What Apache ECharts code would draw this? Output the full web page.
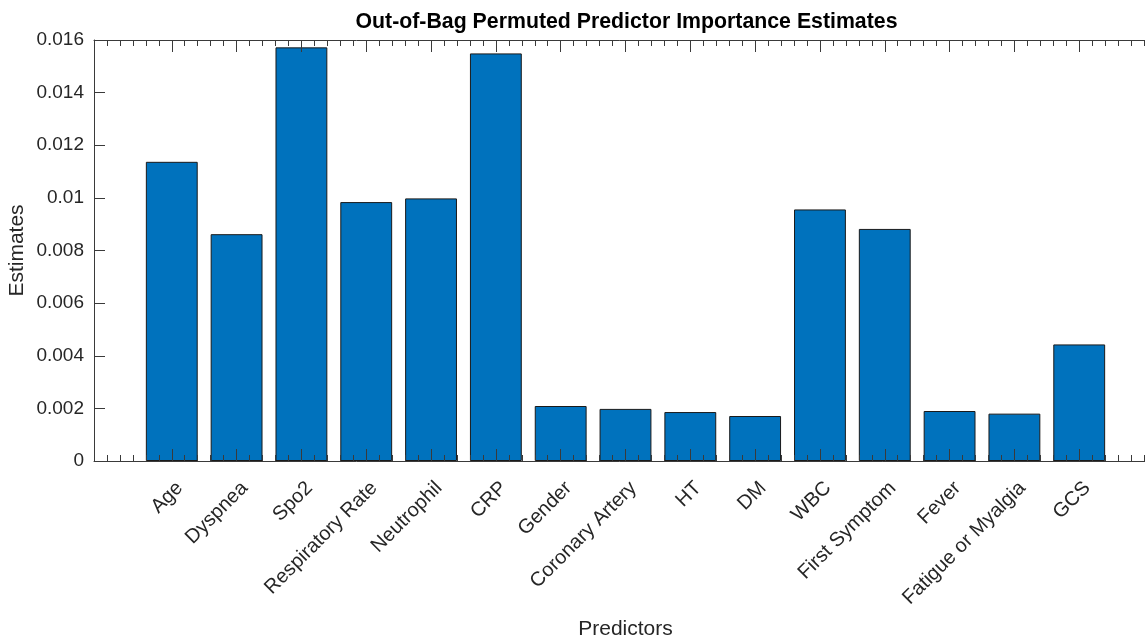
<!DOCTYPE html>
<html>
<head>
<meta charset="utf-8">
<script src="https://cdn.jsdelivr.net/npm/echarts@6/dist/echarts.min.js"></script>
<style>
  html, body { margin: 0; padding: 0; background: #ffffff; }
  #chart { width: 1145px; height: 637px; }
</style>
</head>
<body>
<div id="chart"></div>
<script>
// Predictor names, in plotting order (x = 1 .. 15)
const predictors = [
  'Age', 'Dyspnea', 'Spo2', 'Respiratory Rate', 'Neutrophil', 'CRP', 'Gender',
  'Coronary Artery', 'HT', 'DM', 'WBC', 'First Symptom', 'Fever',
  'Fatigue or Myalgia', 'GCS'
];

// Out-of-bag permuted importance estimate for each predictor
const estimates = [
  0.01137, 0.00862, 0.01572, 0.00984, 0.00998, 0.01549, 0.00209,
  0.00198, 0.00186, 0.00171, 0.00956, 0.00882, 0.00190, 0.00180, 0.00443
];

// Y tick values
const yTicks = [0, 0.002, 0.004, 0.006, 0.008, 0.01, 0.012, 0.014, 0.016];

// X axis limits and tick positions (major at each predictor, minor every 0.2)
const xMin = -0.2, xMax = 16.2;
const xMajorTicks = predictors.map((_, i) => i + 1);
const xMinorTicks = [];
for (let k = 0; k <= 80; k++) xMinorTicks.push(Math.round(k * 2) / 10);

const FONT = '"Liberation Sans", Arial, Helvetica, sans-serif';
const AXIS_COLOR = '#3a3a3a';
const TEXT_COLOR = '#262626';

// Plot box geometry
const GRID = {
  left: 94, top: 40, width: 1063, height: 421,
  containLabel: false, outerBoundsMode: 'none'
};
const unitPx = GRID.width / (xMax - xMin);

// Rotated category labels sit slightly right of their tick (in axis units)
const LABEL_NUDGE = 8 / unitPx;

function xAxisDef(position, tickValues, tickLen, withLabels, withLine) {
  return {
    type: 'value',
    position: position,
    min: xMin,
    max: xMax,
    z: 10,
    axisLine: { show: withLine, onZero: false, lineStyle: { color: AXIS_COLOR, width: 1 } },
    axisTick: {
      show: true,
      inside: true,
      length: tickLen,
      customValues: tickValues,
      lineStyle: { color: AXIS_COLOR, width: 1 }
    },
    axisLabel: withLabels ? {
      show: true,
      customValues: xMajorTicks.map(v => v + LABEL_NUDGE),
      rotate: 45,
      margin: 24,
      fontFamily: FONT,
      fontSize: 20,
      color: TEXT_COLOR,
      formatter: v => predictors[Math.round(v) - 1] || ''
    } : { show: false },
    splitLine: { show: false },
    name: withLabels ? 'Predictors' : '',
    nameLocation: 'middle',
    nameGap: 158,
    nameMoveOverlap: false,
    nameTextStyle: { fontFamily: FONT, fontSize: 21, color: TEXT_COLOR }
  };
}

const chart = echarts.init(document.getElementById('chart'), null, { renderer: 'canvas' });

chart.setOption({
  animation: false,
  backgroundColor: '#ffffff',
  title: {
    text: 'Out-of-Bag Permuted Predictor Importance Estimates',
    left: GRID.left + GRID.width / 2 - 4,
    textAlign: 'center',
    top: 7,
    textStyle: { fontFamily: FONT, fontSize: 21.3, fontWeight: 'bold', color: '#000000' }
  },
  grid: GRID,
  xAxis: [
    xAxisDef('bottom', xMajorTicks, 12, true, true),
    xAxisDef('bottom', xMinorTicks, 6, false, false),
    xAxisDef('top', xMajorTicks, 12, false, true),
    xAxisDef('top', xMinorTicks, 6, false, false)
  ],
  yAxis: [{
    type: 'value',
    min: 0,
    max: 0.016,
    interval: 0.002,
    z: 10,
    axisLine: { show: true, onZero: false, lineStyle: { color: AXIS_COLOR, width: 1 } },
    axisTick: { show: true, inside: true, length: 11, lineStyle: { color: AXIS_COLOR, width: 1 } },
    axisLabel: {
      margin: 10,
      fontFamily: FONT,
      fontSize: 19,
      color: TEXT_COLOR,
      formatter: v => String(+v.toFixed(3))
    },
    splitLine: { show: false },
    name: 'Estimates',
    nameLocation: 'middle',
    nameGap: 66,
    nameRotate: 90,
    nameMoveOverlap: false,
    nameTextStyle: { fontFamily: FONT, fontSize: 21, color: TEXT_COLOR }
  }],
  series: [{
    type: 'bar',
    xAxisIndex: 0,
    yAxisIndex: 0,
    barWidth: 0.8 * unitPx,
    itemStyle: { color: '#0072BD', borderColor: '#1a1a1a', borderWidth: 1 },
    data: estimates.map((v, i) => [xMajorTicks[i], v])
  }]
});
</script>
</body>
</html>
